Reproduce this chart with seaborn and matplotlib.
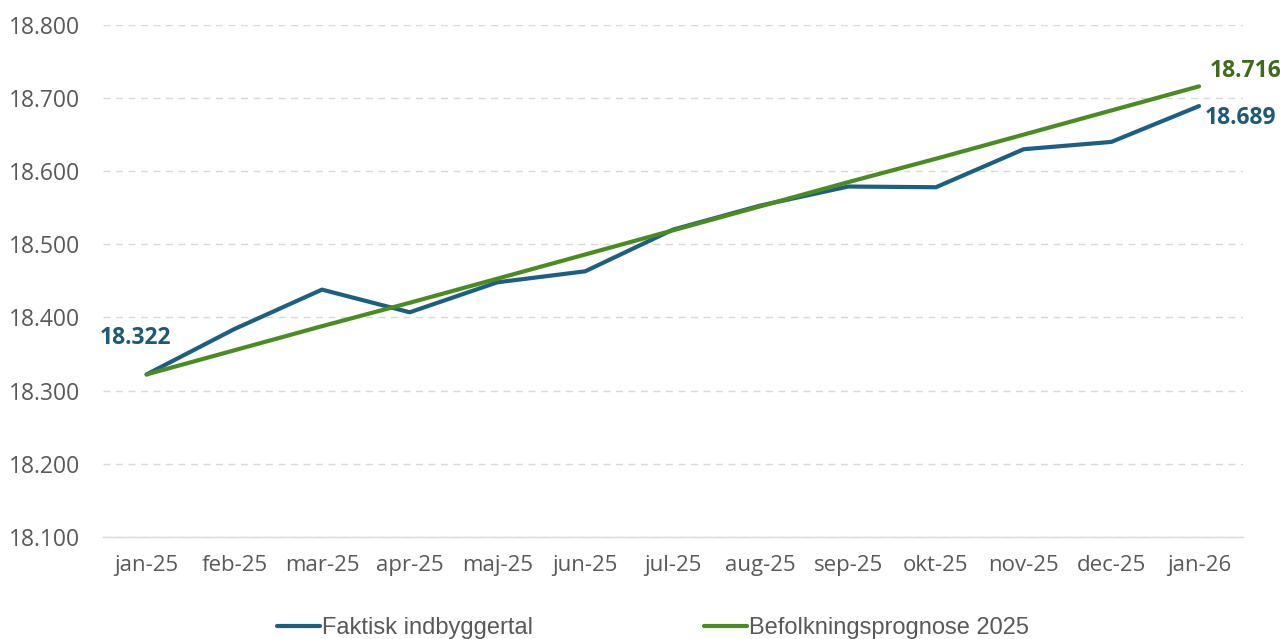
import pandas as pd
import seaborn as sns
import matplotlib.pyplot as plt
from matplotlib.ticker import FuncFormatter, FixedLocator

months = ["jan-25", "feb-25", "mar-25", "apr-25", "maj-25", "jun-25", "jul-25",
          "aug-25", "sep-25", "okt-25", "nov-25", "dec-25", "jan-26"]
faktisk = [18322, 18384, 18438, 18407, 18448, 18463, 18520,
           18553, 18579, 18578, 18630, 18640, 18689]
prognose = [18322, 18355, 18388, 18420, 18453, 18486, 18519,
            18552, 18585, 18617, 18650, 18683, 18716]
series = ["Faktisk indbyggertal", "Befolkningsprognose 2025"]

blue = "#1d5f82"
green = "#4a8c22"

df = pd.DataFrame({
    "maaned": months * 2,
    "x": list(range(len(months))) * 2,
    "vaerdi": faktisk + prognose,
    "serie": [series[0]] * len(months) + [series[1]] * len(months),
})

sns.set_style("white")
plt.rcParams["font.family"] = ["Open Sans", "DejaVu Sans"]

fig = plt.figure(figsize=(12.84, 6.39), dpi=100)
ax = fig.add_axes([0.080, 0.160, 0.888, 0.801])

sns.lineplot(data=df, x="x", y="vaerdi", hue="serie", palette=[blue, green],
             linewidth=3, ax=ax, legend=False)

ax.set_xlim(-0.5, 12.5)
ax.set_ylim(18100, 18800)
ax.set_yticks(range(18100, 18801, 100))
ax.yaxis.set_major_formatter(FuncFormatter(lambda v, p: f"{v:,.0f}".replace(",", ".")))
ax.set_xticks(range(len(months)))
ax.set_xticklabels(months)
ax.xaxis.set_minor_locator(FixedLocator([i - 0.5 for i in range(len(months) + 1)]))
ax.tick_params(axis="x", which="major", length=0, pad=13, labelsize=16, labelcolor="#595959")
ax.tick_params(axis="x", which="minor", length=7, color="#d9d9d9", width=1)
ax.tick_params(axis="y", length=0, pad=16, labelsize=16.5, labelcolor="#595959")
ax.set_xlabel("")
ax.set_ylabel("")

ax.grid(axis="y", color="#d9d9d9", linestyle=(0, (5, 4)), linewidth=1)
ax.grid(axis="x", visible=False)
for s in ["top", "right", "left"]:
    ax.spines[s].set_visible(False)
ax.spines["bottom"].set_color("#d9d9d9")
ax.spines["bottom"].set_linewidth(1)
ax.set_axisbelow(True)

fmt = lambda v: f"{v:,}".replace(",", ".")
ax.annotate(fmt(faktisk[0]), (0, faktisk[0]), xytext=(-34, 22),
            textcoords="offset points", color="#1d5a78", fontsize=16.5, fontweight="bold")
ax.annotate(fmt(faktisk[-1]), (12, faktisk[-1]), xytext=(4, -13),
            textcoords="offset points", color="#1d5a78", fontsize=16.5, fontweight="bold")
ax.annotate(fmt(prognose[-1]), (12, prognose[-1]), xytext=(8, 7),
            textcoords="offset points", color="#3d6b1a", fontsize=16.5, fontweight="bold")

handles = [plt.Line2D([], [], color=blue, linewidth=3),
           plt.Line2D([], [], color=green, linewidth=3)]
fig.legend(handles, series, loc="lower center", bbox_to_anchor=(0.5086, -0.034), ncol=2,
           frameon=False, handlelength=1.82, handletextpad=0.1, columnspacing=7.25,
           prop={"family": ["Liberation Sans", "DejaVu Sans"], "size": 17},
           labelcolor="#595959")

fig.savefig("out.png", dpi=100)
